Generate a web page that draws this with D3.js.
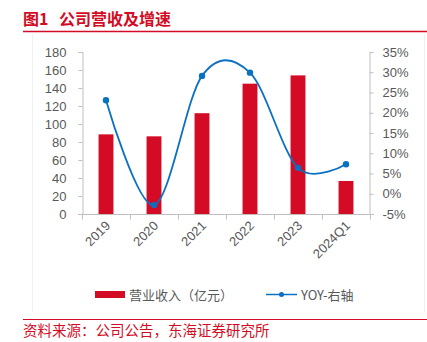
<!DOCTYPE html>
<html>
<head>
<meta charset="utf-8">
<script src="https://cdn.jsdelivr.net/npm/d3@7/dist/d3.min.js"></script>
<style>
  body { margin: 0; background: #fff; }
  svg { display: block; font-family: "Liberation Sans", "Noto Sans CJK SC", sans-serif; }
</style>
</head>
<body>
<svg id="chart"></svg>
<script>
const categories = ["2019", "2020", "2021", "2022", "2023", "2024Q1"];
const revenue = [88.5, 86.3, 112, 144.8, 154, 36.7];
const yoy = [23.1, -2.8, 29.1, 29.9, 6.4, 7.3];
const leftTicks = [0, 20, 40, 60, 80, 100, 120, 140, 160, 180];
const rightTicks = [-5, 0, 5, 10, 15, 20, 25, 30, 35];

const width = 427;
const height = 342;
const red = "#d40b24";
const blue = "#0a70c2";
const grey = "#595959";
const axisGrey = "#bfbfbf";

const svg = d3.select("#chart").attr("width", width).attr("height", height);

// title block
svg.append("text")
  .attr("x", 23).attr("y", 25)
  .attr("fill", red)
  .attr("font-size", 16).attr("font-weight", "bold")
  .attr("font-family", "'Noto Sans CJK SC', sans-serif")
  .text("图1");
svg.append("text")
  .attr("x", 59).attr("y", 25)
  .attr("fill", red)
  .attr("font-size", 16).attr("font-weight", "bold")
  .attr("font-family", "'Noto Sans CJK SC', sans-serif")
  .text("公司营收及增速");
svg.append("line")
  .attr("x1", 23).attr("x2", 427).attr("y1", 31.5).attr("y2", 31.5)
  .attr("stroke", red).attr("stroke-width", 1.5);

// faint frame of the chart area
svg.append("line").attr("x1", 32.5).attr("x2", 32.5).attr("y1", 34).attr("y2", 312)
  .attr("stroke", "#f0f0f0");
svg.append("line").attr("x1", 424.5).attr("x2", 424.5).attr("y1", 34).attr("y2", 312)
  .attr("stroke", "#f0f0f0");

const plot = { left: 82, right: 370, top: 52, bottom: 214 };

const x = d3.scaleBand()
  .domain(categories)
  .range([plot.left, plot.right])
  .paddingInner(0.69)
  .paddingOuter(0.345);

const xCenter = d3.scaleBand().domain(categories).range([plot.left, plot.right]);

const yLeft = d3.scaleLinear().domain([0, 180]).range([plot.bottom, plot.top]);
const yRight = d3.scaleLinear().domain([-5, 35]).range([plot.bottom, plot.top]);

// bars
svg.append("g").selectAll("rect")
  .data(categories)
  .join("rect")
  .attr("x", (d) => x(d))
  .attr("width", x.bandwidth())
  .attr("y", (d, i) => yLeft(revenue[i]))
  .attr("height", (d, i) => yLeft(0) - yLeft(revenue[i]))
  .attr("fill", red);

// left axis
const leftAxis = svg.append("g")
  .attr("transform", `translate(${plot.left + 0.5},0)`)
  .call(d3.axisLeft(yLeft).tickValues(leftTicks).tickSize(4).tickPadding(12));
leftAxis.select(".domain").attr("stroke", axisGrey);
leftAxis.selectAll(".tick line").attr("stroke", axisGrey);
leftAxis.selectAll("text").attr("fill", grey).attr("font-size", 13);

// right axis
const rightAxis = svg.append("g")
  .attr("transform", `translate(${plot.right - 0.5},0)`)
  .call(d3.axisRight(yRight).tickValues(rightTicks).tickSize(4)
    .tickPadding(9).tickFormat((d) => d + "%"));
rightAxis.select(".domain").attr("stroke", axisGrey);
rightAxis.selectAll(".tick line").attr("stroke", axisGrey);
rightAxis.selectAll("text").attr("fill", grey).attr("font-size", 13);

// bottom axis
const bottom = svg.append("g").attr("transform", `translate(0,${plot.bottom + 0.5})`);
bottom.append("line")
  .attr("x1", plot.left - 4).attr("x2", plot.right)
  .attr("stroke", axisGrey);
bottom.selectAll("line.tick")
  .data(categories.concat(["end"]))
  .join("line")
  .attr("class", "tick")
  .attr("x1", (d, i) => Math.round(plot.left + i * xCenter.step()) + 0.5)
  .attr("x2", (d, i) => Math.round(plot.left + i * xCenter.step()) + 0.5)
  .attr("y1", 0).attr("y2", 5)
  .attr("stroke", axisGrey);
bottom.selectAll("text")
  .data(categories)
  .join("text")
  .attr("text-anchor", "end")
  .attr("transform", (d) => `translate(${xCenter(d) + xCenter.bandwidth() / 2 + 5},${12}) rotate(-45)`)
  .attr("fill", grey)
  .attr("font-size", 13)
  .text((d) => d);

// YOY line
const pts = categories.map((c, i) => [xCenter(c) + xCenter.bandwidth() / 2, yRight(yoy[i])]);
svg.append("path")
  .attr("d", d3.line().curve(d3.curveCardinal.tension(0))(pts))
  .attr("fill", "none")
  .attr("stroke", blue)
  .attr("stroke-width", 1.8);
svg.append("g").selectAll("circle")
  .data(pts)
  .join("circle")
  .attr("cx", (d) => d[0]).attr("cy", (d) => d[1])
  .attr("r", 3.2)
  .attr("fill", blue);

// legend
const legend = svg.append("g").attr("font-size", 13).attr("fill", grey);
legend.append("rect").attr("x", 95).attr("y", 291).attr("width", 30).attr("height", 7).attr("fill", red);
legend.append("text").attr("x", 129).attr("y", 299.5).attr("fill", grey)
  .attr("font-family", "'Noto Sans CJK SC', sans-serif")
  .text("营业收入（亿元）");
legend.append("line").attr("x1", 266).attr("x2", 297).attr("y1", 294.5).attr("y2", 294.5)
  .attr("stroke", blue).attr("stroke-width", 1.5);
legend.append("circle").attr("cx", 281.5).attr("cy", 294.5).attr("r", 2.5).attr("fill", blue);
legend.append("text").attr("x", 301).attr("y", 299.5).attr("fill", grey)
  .attr("font-family", "'Noto Sans CJK SC', sans-serif")
  .text("YOY-右轴");

// source footer
svg.append("line")
  .attr("x1", 23).attr("x2", 427).attr("y1", 319.5).attr("y2", 319.5)
  .attr("stroke", red).attr("stroke-width", 1);
svg.append("text")
  .attr("x", 23).attr("y", 336)
  .attr("fill", red)
  .attr("font-size", 14.5)
  .attr("font-family", "'Noto Sans CJK SC', sans-serif")
  .text("资料来源：公司公告，东海证券研究所");
</script>
</body>
</html>
